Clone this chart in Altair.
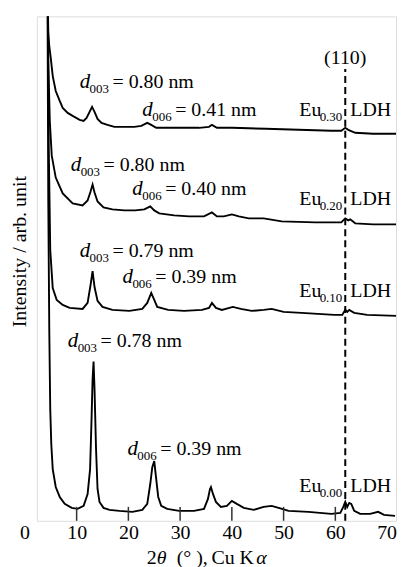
import altair as alt
import pandas as pd

# ---------------- data (2θ as drawn on the axis, intensity in arb. units incl. stacking offset)
tt_030 = [4.23, 4.52, 4.71, 5.00, 5.38, 5.96, 6.73, 7.31, 8.27, 9.23, 10.58, 11.35, 11.92, 12.50, 12.98,
          13.46, 14.04, 14.81, 15.96, 17.31, 19.23, 21.15, 22.50, 23.65, 24.42, 25.38, 27.88, 30.77,
          33.65, 35.58, 36.15, 37.12, 40.00, 43.27, 46.54, 52.88, 59.23, 61.15, 61.92, 62.50, 63.85,
          67.31, 71.73]
i_030 = [582, 492, 477, 465, 447, 432, 422, 415, 410, 407, 403, 402, 405, 411, 416,
         411, 404, 400, 398, 396, 396, 396, 397, 400, 398, 395, 395, 395,
         395, 396, 398, 395, 395, 394.5, 394, 393, 392, 392, 395, 393, 390,
         389, 389]

tt_020 = [4.33, 4.52, 4.81, 5.19, 5.96, 7.31, 9.23, 11.15, 12.12, 12.69, 13.08, 13.46, 14.04, 15.19,
          16.92, 19.23, 21.35, 23.08, 24.23, 25.00, 25.96, 28.85, 31.73, 34.62, 36.15, 37.12, 38.46,
          40.00, 41.35, 43.27, 46.15, 49.62, 56.15, 61.15, 61.92, 62.50, 62.88, 63.85, 67.31, 71.73]
i_020 = [582, 462, 402, 367, 345, 329, 319, 317, 322, 331, 338, 330, 321, 315,
         313, 312, 312, 313, 316, 312, 309, 307, 306, 306, 310, 306, 306,
         308, 306, 304, 304, 301, 300, 300, 304, 302, 303, 299, 298, 298]

tt_010 = [4.33, 4.62, 4.90, 5.38, 6.15, 7.31, 8.65, 11.15, 12.12, 12.69, 13.08, 13.46, 14.04, 15.00,
          16.92, 20.19, 22.69, 23.65, 24.42, 25.00, 25.58, 27.69, 30.77, 34.23, 35.58, 36.15, 36.92,
          38.08, 40.19, 41.73, 43.85, 46.15, 47.69, 50.00, 53.46, 59.81, 61.35, 61.92, 62.31, 62.69,
          63.65, 66.15, 71.92]
i_010 = [582, 372, 272, 234, 222, 217, 214, 213, 219, 237, 251, 235, 221, 215,
         212, 211, 213, 219, 229, 222, 215, 212, 211, 212, 214, 219, 214,
         212, 215, 213, 211, 212, 213, 210, 209, 207, 207, 212, 210, 212,
         209, 207, 206]

tt_000 = [4.33, 4.52, 4.71, 4.90, 5.10, 5.38, 5.96, 6.73, 7.69, 9.04, 10.19, 11.35, 12.12, 12.60,
          12.88, 13.08, 13.27, 13.46, 13.75, 14.04, 14.42, 15.19, 16.35, 18.27, 20.77, 22.69, 23.65,
          24.23, 24.62, 25.00, 25.38, 25.77, 26.35, 27.50, 29.81, 32.69, 34.62, 35.38, 35.77, 35.96,
          36.35, 36.92, 37.88, 39.04, 40.00, 40.96, 42.31, 44.23, 46.15, 47.69, 49.04, 50.96, 54.81,
          59.23, 60.96, 61.54, 61.92, 62.31, 62.69, 63.08, 63.65, 64.81, 66.73, 68.27, 69.42, 71.54]
i_000 = [582, 322, 192, 112, 77, 52, 34, 24, 17, 13, 12, 15, 27, 52,
         102, 142, 160, 132, 72, 32, 19, 13, 11, 10, 9, 11, 17,
         37, 54, 60, 42, 24, 15, 12, 10, 10, 12, 22, 32, 34,
         27, 19, 14, 15, 20, 17, 13, 11, 14, 15, 13, 10, 9,
         7, 8, 14, 19, 14, 18, 17, 10, 7, 7, 9, 6, 5]

# d-spacing annotations: anchor (2θ, intensity), subscript, rest of text
d_x = [10.58, 22.69, 8.85, 20.77, 10.58, 18.85, 8.27, 19.81]
d_y = [435, 407, 352, 327, 265, 239, 175, 66]
d_sub = ["003", "006", "003", "006", "003", "006", "003", "006"]
d_rest = ["= 0.80 nm", "= 0.41 nm", "= 0.80 nm", "= 0.40 nm",
          "= 0.79 nm", "= 0.39 nm", "= 0.78 nm", "= 0.39 nm"]

# sample labels at the (110) line
peak110 = 61.92
eu_y = [407, 317, 225, 29]
eu_sub = ["0.30", "0.20", "0.10", "0.00"]
label110_y = 459
dash_top = 454

tick_vals = [10, 20, 30, 40, 50, 60]
X_DOMAIN = [2.31, 71.73]
Y_DOMAIN = [0, 507]

FONT = "'Liberation Serif', 'Times New Roman', 'DejaVu Serif', serif"
W, H = 361, 507

rows = []
for name, xs_, ys_ in [("Eu0.30", tt_030, i_030), ("Eu0.20", tt_020, i_020),
                       ("Eu0.10", tt_010, i_010), ("Eu0.00", tt_000, i_000)]:
    for k, (a, b) in enumerate(zip(xs_, ys_)):
        rows.append({"sample": name, "tt": a, "I": b, "k": k})
curves = pd.DataFrame(rows)

ann = pd.DataFrame({"x": d_x, "y": d_y, "sub": d_sub, "rest": d_rest})
eu = pd.DataFrame({"x": [peak110] * 4, "y": eu_y, "sub": eu_sub})

xs = alt.Scale(domain=X_DOMAIN, nice=False, zero=False)
ys = alt.Scale(domain=Y_DOMAIN, nice=False, zero=False)

xaxis = alt.Axis(values=tick_vals, ticks=False, domain=False, grid=False,
                 labelFont=FONT, labelFontSize=20, labelColor="black", labelPadding=2,
                 title=None)
yaxis = alt.Axis(labels=False, ticks=False, domain=False, grid=False,
                 title="Intensity / arb. unit", titleFont=FONT, titleFontSize=20,
                 titleFontWeight="normal", titleColor="black", titleAngle=-90,
                 titleX=-17, titleY=236, titleAlign="center", titleBaseline="middle")

lines = alt.Chart(curves).mark_line(color="black", strokeWidth=1.9, clip=True).encode(
    x=alt.X("tt:Q", scale=xs, axis=xaxis),
    y=alt.Y("I:Q", scale=ys, axis=yaxis),
    detail="sample:N",
    order="k:Q",
)

tick_df = pd.DataFrame({"v": tick_vals})
ticks = alt.Chart(tick_df).mark_rule(color="#333", strokeWidth=1.5).encode(
    x="v:Q", y=alt.datum(0), y2=alt.datum(14)
)

dash = alt.Chart(pd.DataFrame({"v": [peak110]})).mark_rule(
    color="black", strokeWidth=2, strokeDash=[7, 4]
).encode(x="v:Q", y=alt.datum(0), y2=alt.datum(dash_top))

lbl110 = alt.Chart(pd.DataFrame({"v": [peak110], "y": [label110_y], "t": ["(110)"]})).mark_text(
    font=FONT, fontSize=20, align="center", baseline="alphabetic", color="black"
).encode(x="v:Q", y="y:Q", text="t:N")

d_main = alt.Chart(ann).mark_text(font=FONT, fontSize=21, fontStyle="italic", align="left",
                                  baseline="alphabetic", color="black").encode(
    x="x:Q", y="y:Q", text=alt.value("d"))
d_subs = alt.Chart(ann).mark_text(font=FONT, fontSize=13, align="left", dx=10, dy=5,
                                  baseline="alphabetic", color="black").encode(
    x="x:Q", y="y:Q", text="sub:N")
d_rest_t = alt.Chart(ann).mark_text(font=FONT, fontSize=20, align="left", dx=33,
                                    baseline="alphabetic", color="black").encode(
    x="x:Q", y="y:Q", text="rest:N")

eu_main = alt.Chart(eu).mark_text(font=FONT, fontSize=20, align="right", dx=-24,
                                  baseline="alphabetic", color="black").encode(
    x="x:Q", y="y:Q", text=alt.value("Eu"))
eu_subs = alt.Chart(eu).mark_text(font=FONT, fontSize=13, align="right", dx=-3, dy=5,
                                  baseline="alphabetic", color="black").encode(
    x="x:Q", y="y:Q", text="sub:N")
eu_ldh = alt.Chart(eu).mark_text(font=FONT, fontSize=20, align="left", dx=5,
                                 baseline="alphabetic", color="black").encode(
    x="x:Q", y="y:Q", text=alt.value("LDH"))

end_labels = alt.Chart(pd.DataFrame({"v": [0, 70], "t": ["0", "70"], "off": [5, 8]})).mark_text(
    font=FONT, fontSize=20, align="center", baseline="top", color="black"
).encode(x="v:Q", y=alt.value(H + 2), text="t:N", xOffset="off:Q")

# x-axis title built from pieces so that θ and α are italic
xt_parts = ["2", "θ", "(° ),", "Cu K", "α"]
xt_italic = [False, True, False, False, True]
xt_dx = [-60, -50, -30, 5, 50]
xtitle_layers = []
for part, it, off in zip(xt_parts, xt_italic, xt_dx):
    kw = dict(font=FONT, fontSize=20, align="left", baseline="alphabetic", color="black", dx=off)
    if it:
        kw["fontStyle"] = "italic"
    xtitle_layers.append(
        alt.Chart(pd.DataFrame({"t": [part]})).mark_text(**kw).encode(
            x=alt.value(W / 2 - 10), y=alt.value(H + 43), text="t:N")
    )

chart = alt.layer(
    lines, ticks, dash, lbl110, d_main, d_subs, d_rest_t, eu_main, eu_subs, eu_ldh, end_labels,
    *xtitle_layers
).properties(
    width=W, height=H,
    padding={"left": 2, "top": 7, "right": 2, "bottom": 0},
).configure_view(
    stroke="#555", strokeWidth=1.5
).configure(background="white")

chart.save("out.html", embed_options={"renderer": "svg", "actions": False})
